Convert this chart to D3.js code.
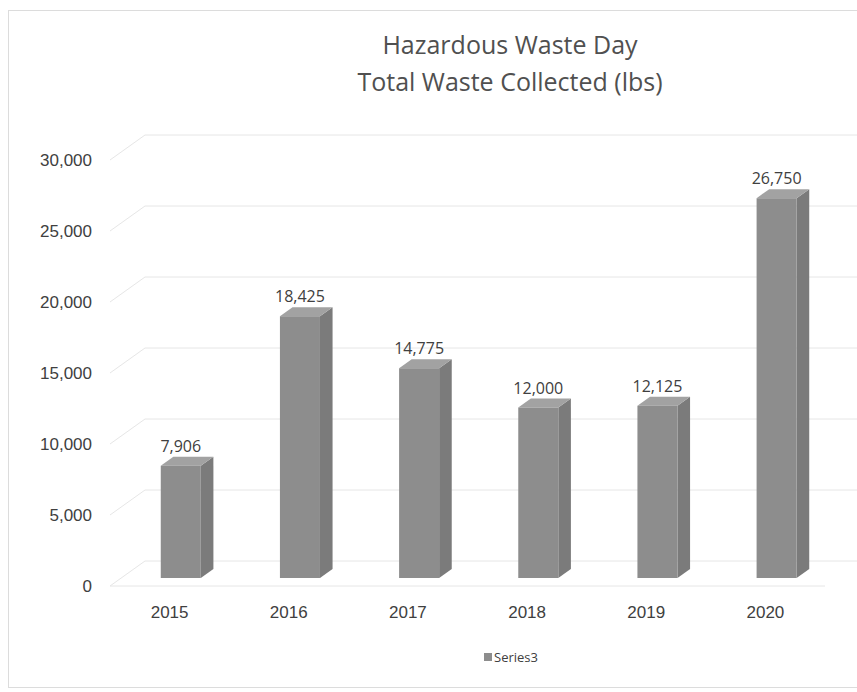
<!DOCTYPE html>
<html>
<head>
<meta charset="utf-8">
<script src="https://cdn.jsdelivr.net/npm/d3@7"></script>
<style>
  body { margin: 0; background: #fff; }
  svg { display: block; font-family: 'Open Sans', sans-serif; }
  .axisLabel text { fill: #404040; font-size: 17px; }
</style>
</head>
<body>
<svg width="857" height="692"></svg>
<script>
const years = ['2015', '2016', '2017', '2018', '2019', '2020']
const totals = [7906, 18425, 14775, 12000, 12125, 26750]
const yTicks = [0, 5000, 10000, 15000, 20000, 25000, 30000]
const seriesName = 'Series3'
const titleLines = ['Hazardous Waste Day', 'Total Waste Collected (lbs)']

const svg = d3.select('svg')
const dim = { left: 110, right: 825, bottom: 586, top: 160 }
const depth = { dx: 35, dy: -25 } // offset from front plane to back wall
const barDepth = [0.32, 0.68] // bar sits between these fractions of the depth

const xScale = d3.scaleBand()
  .domain(years)
  .range([dim.left, dim.right])
  .paddingInner(0.664)
  .paddingOuter(0.332)

const yScale = d3.scaleLinear()
  .domain([0, 30000])
  .range([dim.bottom, dim.top])

const proj = (x, v, f) => [x + depth.dx * f, yScale(v) + depth.dy * f]
const poly = (pts) => 'M' + pts.map(p => p.join(',')).join('L') + 'Z'

// chart frame
svg.append('rect')
  .attr('x', 8.5).attr('y', 10.5)
  .attr('width', 900).attr('height', 677)
  .attr('fill', 'none')
  .attr('stroke', '#dcdcdc')

// title
svg.append('g')
  .selectAll('text')
  .data(titleLines)
  .join('text')
    .attr('x', 510)
    .attr('y', (d, i) => 54 + i * 37)
    .attr('text-anchor', 'middle')
    .attr('fill', '#505050')
    .style('font-size', '25px')
    .text(d => d)

// walls: back gridlines and side-wall diagonals
const grid = svg.append('g').attr('stroke', '#e6e6e6').attr('fill', 'none')
grid.selectAll('.back')
  .data(yTicks)
  .join('path')
    .attr('class', 'back')
    .attr('d', d => d3.line()([proj(dim.left, d, 1), proj(dim.right, d, 1)]))
grid.selectAll('.side')
  .data(yTicks)
  .join('path')
    .attr('class', 'side')
    .attr('d', d => d3.line()([proj(dim.left, d, 0), proj(dim.left, d, 1)]))
grid.append('path') // front edge of the floor
  .attr('d', d3.line()([proj(dim.left, 0, 0), proj(dim.right, 0, 0)]))

// y axis labels
svg.append('g')
  .attr('class', 'axisLabel leftAxis')
  .attr('transform', 'translate(' + dim.left + ',0)')
  .call(d3.axisLeft(yScale).tickValues(yTicks).tickFormat(d3.format(',')).tickSize(0).tickPadding(18))
  .call(g => g.select('.domain').remove())

// x axis labels
svg.append('g')
  .attr('class', 'axisLabel bottomAxis')
  .attr('transform', 'translate(0,' + dim.bottom + ')')
  .call(d3.axisBottom(xScale).tickSize(0).tickPadding(20))
  .call(g => g.select('.domain').remove())

// 3D bars
const data = years.map((year, i) => ({ year, value: totals[i] }))
const bars = svg.append('g')
  .selectAll('g')
  .data(data)
  .join('g')

const [f0, f1] = barDepth
bars.append('path') // side face
  .attr('fill', '#7b7b7b')
  .attr('d', d => {
    const x1 = xScale(d.year) + xScale.bandwidth()
    return poly([proj(x1, 0, f0), proj(x1, 0, f1), proj(x1, d.value, f1), proj(x1, d.value, f0)])
  })
bars.append('path') // top face
  .attr('fill', '#a2a2a2')
  .attr('d', d => {
    const x0 = xScale(d.year)
    const x1 = x0 + xScale.bandwidth()
    return poly([proj(x0, d.value, f0), proj(x1, d.value, f0), proj(x1, d.value, f1), proj(x0, d.value, f1)])
  })
bars.append('path') // front face
  .attr('fill', '#8d8d8d')
  .attr('d', d => {
    const x0 = xScale(d.year)
    const x1 = x0 + xScale.bandwidth()
    return poly([proj(x0, 0, f0), proj(x1, 0, f0), proj(x1, d.value, f0), proj(x0, d.value, f0)])
  })

// data labels
bars.append('text')
  .attr('x', d => proj(xScale(d.year) + xScale.bandwidth() / 2, d.value, f0)[0])
  .attr('y', d => proj(0, d.value, f1)[1] - 5)
  .attr('text-anchor', 'middle')
  .attr('fill', '#404040')
  .style('font-size', '16px')
  .text(d => d3.format(',')(d.value))

// legend
const legend = svg.append('g').attr('transform', 'translate(484,653)')
legend.append('rect')
  .attr('width', 8).attr('height', 8)
  .attr('fill', '#8d8d8d')
legend.append('text')
  .attr('x', 10).attr('y', 9)
  .attr('fill', '#404040')
  .style('font-size', '13px')
  .text(seriesName)
</script>
</body>
</html>
